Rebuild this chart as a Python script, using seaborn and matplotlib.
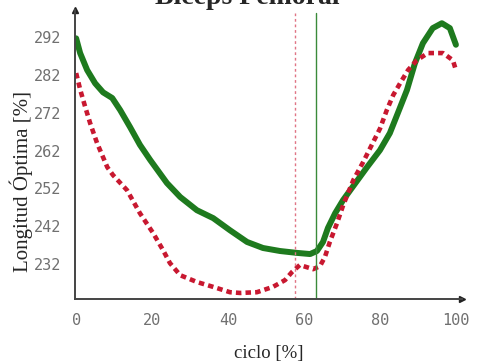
import matplotlib
matplotlib.use("Agg")
import matplotlib.pyplot as plt
import seaborn as sns

# --- data ---
ciclo_verde = [0, 1.05, 2.9, 5.0, 7.1, 9.5, 11.6, 14.2, 16.8, 19.5, 23.9, 27.4, 31.8,
               36.1, 40.5, 45, 49.2, 53.7, 58.2, 61.6, 63.4, 65, 66.3, 68.2, 70.3, 72.9,
               76.6, 80, 82.6, 84.7, 87.1, 89.2, 91.3, 93.9, 96.3, 98.4, 100]
long_verde = [291.7, 287.8, 283.3, 279.8, 277.4, 275.9, 272.7, 268.2, 263.5, 259.5,
              253.4, 249.7, 246.2, 244.1, 240.9, 237.8, 236.2, 235.4, 234.9, 234.6,
              235.4, 237.8, 241.5, 245.4, 248.9, 252.5, 257.6, 262.1, 266.6, 271.9,
              278, 285.1, 290.4, 294.4, 295.7, 294.4, 290]

ciclo_rojo = [0, 1.1, 2.4, 3.7, 5.5, 8.2, 9.7, 13.4, 16.8, 20.3, 22.9, 24.7, 27.4, 31.8,
              36.1, 40.5, 43.2, 47.6, 51.8, 55, 56.8, 58.9, 62.4, 64.2, 65.5, 66.8,
              68.7, 70.3, 73, 75.6, 77.8, 80, 81.8, 83.5, 85.3, 87.4, 89.7, 92.6, 96.6,
              99.2, 100]
long_rojo = [282.5, 278, 273.5, 269.2, 264, 257.6, 255.5, 251.5, 245.4, 240.1, 235.6,
             232.2, 229, 227.2, 225.9, 224.5, 224.3, 224.5, 225.9, 227.7, 229.8, 231.7,
             230.6, 231.4, 233.8, 237.8, 242.8, 247.5, 254.2, 259, 263.4, 267.8, 272.7,
             276.7, 279.8, 283.3, 285.9, 287.8, 287.8, 285.9, 283.3]

linea_roja_x = 57.6
linea_verde_x = 63.2

xticks = [0, 20, 40, 60, 80, 100]
yticks = [232, 242, 252, 262, 272, 282, 292]

sns.set_style("white")

fig = plt.figure(figsize=(4.79, 3.62), dpi=100)
ax = fig.add_axes([75 / 479, 1 - 299 / 362, (462 - 75) / 479, (299 - 10) / 362])

sns.lineplot(x=ciclo_verde, y=long_verde, ax=ax, sort=False, color="#1e7a1e",
             linewidth=4.3, solid_capstyle="round", solid_joinstyle="round")
sns.lineplot(x=ciclo_rojo, y=long_rojo, ax=ax, sort=False, color="#c81830",
             linewidth=3.3, linestyle=(0, (1.2, 0.9)), dash_capstyle="butt",
             dash_joinstyle="round")

ax.axvline(linea_roja_x, ymax=0.99, color="#e07585", linewidth=1.0, linestyle=(0, (2, 2)))
ax.axvline(linea_verde_x, ymax=0.99, color="#3a8a3a", linewidth=1.0)

ax.set_xlim(-0.3, 101.6)
ax.set_ylim(222.7, 299.2)
ax.set_xticks(xticks)
ax.set_yticks(yticks)

for s in ["top", "right"]:
    ax.spines[s].set_visible(False)
for s in ["left", "bottom"]:
    ax.spines[s].set_color("#444444")
    ax.spines[s].set_linewidth(1.4)

ax.plot(0, 1, marker="^", color="#222222", markersize=4, transform=ax.transAxes, clip_on=False)
ax.plot(1, 0, marker=">", color="#222222", markersize=4, transform=ax.transAxes, clip_on=False)

ax.tick_params(axis="both", length=3, width=0.8, color="#888888", labelcolor="#707070",
               labelsize=11)
ax.tick_params(axis="y", pad=7)
ax.tick_params(axis="x", pad=7)
for lab in ax.get_xticklabels() + ax.get_yticklabels():
    lab.set_family("DejaVu Sans Mono")

ax.set_xlabel("ciclo [%]", family="Liberation Serif", fontsize=13.5, labelpad=12)
ax.set_ylabel("Longitud Óptima [%]", family="Liberation Serif", fontsize=15)
ax.yaxis.set_label_coords(-0.108, 0.408)

fig.text(247 / 479, 1 - 4 / 362, "Bíceps Femoral", family="Liberation Serif",
         fontweight="bold", fontsize=20, ha="center", va="baseline")

fig.savefig("out.png", dpi=100)
